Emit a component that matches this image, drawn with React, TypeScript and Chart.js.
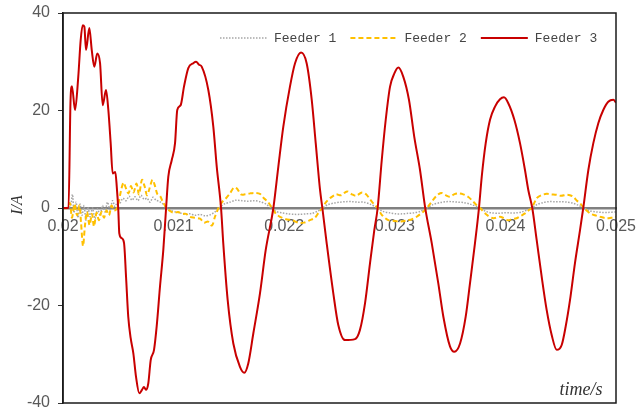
import React, { useEffect, useRef } from 'react';
import { Chart, registerables } from 'chart.js';

Chart.register(...registerables);

const seriesLabels = ['Feeder 1', 'Feeder 2', 'Feeder 3'];
const xTickValues = [0.02, 0.021, 0.022, 0.023, 0.024, 0.025];
const yTickValues = [-40, -20, 0, 20, 40];

const feeder1Time = [
  0.02, 0.020063, 0.020086, 0.020099, 0.020118, 0.020136, 0.020154, 0.020172, 0.02019, 0.020208,
  0.020226, 0.020244, 0.020267, 0.020289, 0.020312, 0.020335, 0.020357, 0.02038, 0.020402, 0.020425,
  0.020448, 0.02047, 0.020493, 0.020515, 0.020542, 0.02057, 0.020597, 0.020624, 0.020651, 0.020678,
  0.020705, 0.020732, 0.02076, 0.020787, 0.020814, 0.020841, 0.020868, 0.020895, 0.020931, 0.020967,
  0.021013, 0.021058, 0.021103, 0.021148, 0.021193, 0.021239, 0.021284, 0.021329, 0.021374, 0.02141,
  0.021456, 0.02151, 0.021564, 0.021618, 0.021673, 0.021727, 0.021781, 0.021835, 0.021881, 0.021926,
  0.02198, 0.022034, 0.022089, 0.022143, 0.022197, 0.022251, 0.022306, 0.022346, 0.022396, 0.02245,
  0.022505, 0.022559, 0.022613, 0.022667, 0.022722, 0.022776, 0.022844, 0.022893, 0.022957, 0.023011,
  0.023065, 0.023119, 0.023174, 0.023228, 0.023291, 0.023345, 0.023409, 0.023463, 0.023517, 0.023571,
  0.023626, 0.02368, 0.023771, 0.023825, 0.023879, 0.023933, 0.023987, 0.024042, 0.024096, 0.02415,
  0.024236, 0.024286, 0.02434, 0.024394, 0.024448, 0.024503, 0.024557, 0.024611, 0.024656, 0.024711,
  0.024765, 0.024819, 0.024873, 0.024928, 0.025,
];
const feeder1Current = [
  0, 0.3, 2.8, -1.0, 1.2, -2.0, 0.8, -1.5, 0.5, -2.5,
  0.2, -1.8, 0.0, -2.2, -0.2, -1.5, 0.5, -0.8, 1.2, -0.3,
  1.5, 0.3, 1.2, 1.0, 2.0, 1.5, 2.4, 1.6, 2.3, 1.5,
  2.6, 1.8, 2.0, 1.2, 2.2, 1.6, 1.4, 1.0, 0.2, -0.4,
  -0.8, -1.0, -1.3, -1.2, -1.5, -1.3, -1.6, -1.4, -0.8, 0,
  0.8, 1.2, 1.6, 1.5, 1.4, 1.5, 1.3, 0.8, 0, -0.7,
  -1.0, -1.2, -1.3, -1.3, -1.2, -1.1, -0.6, 0, 0.7, 1.0,
  1.2, 1.3, 1.3, 1.2, 1.2, 0.8, 0, -0.7, -1.0, -1.2,
  -1.2, -1.1, -1.0, -0.7, 0, 0.7, 1.1, 1.3, 1.3, 1.2,
  1.1, 0.8, 0, -0.7, -1.0, -1.1, -1.0, -1.0, -1.0, -0.8,
  0, 0.7, 1.1, 1.3, 1.3, 1.3, 1.2, 1.0, 0.6, 0,
  -0.6, -0.8, -0.9, -0.9, -0.8,
];

const feeder2Time = [
  0.02, 0.020045, 0.020063, 0.020081, 0.020104, 0.020127, 0.020149, 0.020163, 0.020181, 0.020199,
  0.020217, 0.02024, 0.020262, 0.02028, 0.020303, 0.020325, 0.020348, 0.020371, 0.020393, 0.020416,
  0.020439, 0.020461, 0.020484, 0.020502, 0.020524, 0.020547, 0.02057, 0.020592, 0.020615, 0.020637,
  0.020665, 0.020687, 0.020714, 0.020737, 0.02076, 0.020782, 0.020809, 0.020832, 0.020854, 0.020877,
  0.020904, 0.020936, 0.020967, 0.021004, 0.02104, 0.021076, 0.021112, 0.021148, 0.021193, 0.021239,
  0.021275, 0.021311, 0.021347, 0.021374, 0.021406, 0.021438, 0.021474, 0.02151, 0.021546, 0.021573,
  0.021609, 0.021646, 0.021691, 0.021736, 0.021781, 0.021817, 0.021854, 0.02189, 0.021926, 0.021962,
  0.022016, 0.022071, 0.022125, 0.022179, 0.022233, 0.022278, 0.022315, 0.022346, 0.022378, 0.022414,
  0.022468, 0.022514, 0.022568, 0.022613, 0.022649, 0.022703, 0.02274, 0.022776, 0.022812, 0.022845,
  0.022882, 0.022941, 0.022984, 0.023032, 0.023074, 0.023122, 0.023156, 0.023198, 0.023255, 0.023291,
  0.023334, 0.023373, 0.023418, 0.023463, 0.023499, 0.023535, 0.023571, 0.023619, 0.023662, 0.02371,
  0.023743, 0.023771, 0.023831, 0.023891, 0.023951, 0.023987, 0.024026, 0.02406, 0.024102, 0.024141,
  0.024177, 0.024213, 0.024238, 0.024283, 0.024322, 0.024373, 0.024412, 0.024464, 0.024503, 0.024554,
  0.024584, 0.024614, 0.024647, 0.024674, 0.024711, 0.024765, 0.02481, 0.024855, 0.024916, 0.024955,
  0.025,
];
const feeder2Current = [
  0, 0, 1.0, -2.0, 0.8, -1.5, 0.5, -3.0, -7.8, -3.5,
  -0.8, -3.5, -1.2, -3.8, -1.0, -2.5, -0.8, -2.0, -0.5, -1.5,
  0.5, -0.5, -0.2, 1.0, 3.5, 5.2, 4.0, 3.0, 4.5, 3.2,
  5.0, 2.8, 5.8, 4.5, 2.6, 4.0, 5.8, 4.5, 2.8, 2.5,
  1.2, 0, -0.6, -1.0, -0.8, -1.2, -1.2, -1.8, -2.0, -2.2,
  -3.0, -2.8, -3.6, -1.8, 0, 1.2, 2.0, 3.0, 4.2, 4.0,
  2.8, 2.8, 3.0, 3.1, 2.9, 2.0, 1.2, 0, -1.2, -1.8,
  -2.3, -2.5, -3.0, -3.0, -2.5, -2.0, -0.8, 0, 1.2, 2.0,
  2.8, 2.6, 3.4, 2.8, 2.5, 3.2, 2.8, 1.8, 0.8, 0,
  -1.4, -2.5, -2.6, -2.8, -2.7, -2.5, -2.3, -1.8, -0.8, 0,
  1.3, 2.4, 3.1, 2.6, 2.3, 2.8, 3.0, 2.8, 2.3, 1.3,
  0.5, 0, -1.4, -2.1, -1.8, -2.1, -2.5, -2.3, -2.1, -1.6,
  -1.1, -0.4, 0, 2.0, 2.6, 2.9, 2.8, 2.7, 2.5, 2.7,
  2.6, 2.3, 1.5, 1.0, 0, -1.1, -1.5, -1.8, -2.1, -2.0,
  -1.8,
];

const feeder3Time = [
  0.02, 0.02005, 0.020068, 0.020081, 0.020109, 0.020138, 0.02016, 0.020178, 0.020193, 0.020208,
  0.020238, 0.02026, 0.020283, 0.02031, 0.020335, 0.020359, 0.020389, 0.02041, 0.020431, 0.020449,
  0.020473, 0.020486, 0.0205, 0.020509, 0.020531, 0.020552, 0.02057, 0.02059, 0.020612, 0.020636,
  0.02066, 0.02069, 0.020714, 0.020732, 0.02075, 0.020771, 0.020793, 0.020823, 0.020847, 0.020877,
  0.020907, 0.020931, 0.020952, 0.020983, 0.021013, 0.021033, 0.021064, 0.021094, 0.021133, 0.021178,
  0.021203, 0.02123, 0.021254, 0.021314, 0.021359, 0.02139, 0.021429, 0.021449, 0.021489, 0.02154,
  0.0216, 0.021639, 0.021675, 0.021721, 0.021781, 0.021833, 0.021902, 0.021947, 0.021992, 0.022052,
  0.022098, 0.022152, 0.022203, 0.022249, 0.022285, 0.022324, 0.022345, 0.022384, 0.022444, 0.022489,
  0.02255, 0.02264, 0.022685, 0.022731, 0.022776, 0.022815, 0.022845, 0.022882, 0.022918, 0.022957,
  0.022996, 0.023032, 0.023077, 0.023128, 0.023176, 0.023228, 0.023273, 0.023334, 0.023393, 0.023439,
  0.023499, 0.023538, 0.02359, 0.023641, 0.02368, 0.023725, 0.023761, 0.023786, 0.023822, 0.023861,
  0.023906, 0.023951, 0.023987, 0.024026, 0.024081, 0.024132, 0.024177, 0.024207, 0.024243, 0.024283,
  0.024328, 0.024373, 0.024419, 0.024464, 0.024509, 0.024545, 0.024584, 0.024629, 0.024675, 0.024704,
  0.02475, 0.024795, 0.02484, 0.024885, 0.02493, 0.024976, 0.025,
];
const feeder3Current = [
  0, 0, 22, 25, 20.1, 26.9, 34.5, 37.5, 37.2, 32.4,
  36.9, 32.4, 29.0, 31.7, 29.7, 21.1, 24.2, 20.1, 13.3, 7.1,
  7.4, 4.4, -0.4, -5.2, -6.2, -7.2, -14.1, -22.3, -26.7, -29.8,
  -34.6, -38.0, -37.3, -36.7, -37.3, -36.0, -31.2, -29.1, -24.3, -16.1,
  -8.6, -0.4, 6.4, 9.8, 13.3, 20.1, 21.1, 24.9, 28.7, 29.7,
  30.0, 29.4, 29.0, 24.2, 16.7, 8.5, 0, -7.2, -18.9, -27.8,
  -32.6, -33.8, -31.9, -25.7, -17.5, -8.6, 0, 8.5, 16.7, 24.9,
  29.7, 31.9, 29.7, 22.2, 13.3, 3.7, 0, -7.2, -17.5, -24.0,
  -27.1, -26.9, -25.0, -19.5, -11.3, -4.5, 0, 9.8, 18.1, 24.9,
  27.6, 28.8, 26.9, 22.2, 14.6, 7.8, 0.3, -7.2, -15.4, -22.3,
  -28.4, -29.5, -27.8, -22.3, -15.4, -7.2, 0, 6.4, 13.3, 18.1,
  20.8, 22.3, 22.7, 21.5, 18.1, 13.3, 7.8, 3.7, 0, -6.6,
  -14.1, -20.9, -26.1, -29.1, -28.1, -24.3, -18.9, -11.3, -4.5, 0,
  7.8, 13.3, 17.4, 20.1, 21.8, 22.2, 21.6,
];

const toPoints = (t: number[], v: number[]) => t.map((x, i) => ({ x, y: v[i] }));

const zeroPadding = (s: any) => {
  s.paddingLeft = 0;
  s.paddingRight = 0;
  s.paddingTop = 0;
  s.paddingBottom = 0;
};

const decorPlugin = {
  id: 'decor',
  afterDraw(chart: any) {
    const { ctx, chartArea: a } = chart;
    ctx.save();
    // frame
    ctx.strokeStyle = '#1a1a1a';
    ctx.lineWidth = 1.5;
    ctx.setLineDash([]);
    ctx.strokeRect(a.left, a.top, a.right - a.left, a.bottom - a.top);

    // legend
    ctx.font = '13px "Liberation Mono", "DejaVu Sans Mono", monospace';
    ctx.textBaseline = 'middle';
    ctx.textAlign = 'left';
    let x = a.left + 157;
    const y = a.top + 25;
    [0, 1, 2].forEach((i) => {
      const ds = chart.data.datasets[i];
      ctx.strokeStyle = ds.borderColor;
      ctx.lineWidth = ds.borderWidth;
      ctx.setLineDash(ds.borderDash || []);
      ctx.beginPath();
      ctx.moveTo(x, y);
      ctx.lineTo(x + 47, y);
      ctx.stroke();
      ctx.setLineDash([]);
      ctx.fillStyle = '#454545';
      ctx.fillText(ds.label, x + 54, y + 1);
      x += 54 + ctx.measureText(ds.label).width + 14;
    });

    // axis titles
    ctx.fillStyle = '#333333';
    ctx.font = 'italic 16px "Liberation Serif", "DejaVu Serif", serif';
    ctx.save();
    ctx.translate(18, chart.scales.y.getPixelForValue(0) - 3);
    ctx.rotate(-Math.PI / 2);
    ctx.textAlign = 'center';
    ctx.textBaseline = 'middle';
    ctx.fillText('I/A', 0, 0);
    ctx.restore();

    ctx.font = 'italic 18px "Liberation Serif", "DejaVu Serif", serif';
    ctx.textAlign = 'center';
    ctx.textBaseline = 'middle';
    ctx.fillText('time/s', a.right - 35, a.bottom - 13);
    ctx.restore();
  },
};

export default function App() {
  const ref = useRef<HTMLCanvasElement | null>(null);

  useEffect(() => {
    if (!ref.current) return;
    const tickFont = { family: '"Liberation Sans", Arial, sans-serif', size: 16 };
    const chart = new Chart(ref.current, {
      type: 'line',
      data: {
        datasets: [
          {
            label: seriesLabels[0],
            data: toPoints(feeder1Time, feeder1Current),
            borderColor: '#a6a6a6',
            borderWidth: 1.5,
            borderDash: [1.5, 1.5],
            pointRadius: 0,
            tension: 0.3,
            order: 2,
          },
          {
            label: seriesLabels[1],
            data: toPoints(feeder2Time, feeder2Current),
            borderColor: '#ffc000',
            borderWidth: 2,
            borderDash: [5, 3],
            pointRadius: 0,
            tension: 0.3,
            order: 1,
          },
          {
            label: seriesLabels[2],
            data: toPoints(feeder3Time, feeder3Current),
            borderColor: '#c80000',
            borderWidth: 2,
            pointRadius: 0,
            cubicInterpolationMode: 'monotone',
            order: 0,
          },
        ] as any,
      },
      options: {
        responsive: false,
        animation: false,
        parsing: false as any,
        layout: { padding: { top: 13, right: 20, bottom: 9, left: 0 } },
        plugins: { legend: { display: false }, tooltip: { enabled: false } },
        scales: {
          x: {
            type: 'linear',
            position: { y: 0 } as any,
            min: 0.02,
            max: 0.025,
            afterBuildTicks: (s: any) => {
              s.ticks = xTickValues.map((v) => ({ value: v }));
            },
            afterFit: zeroPadding,
            ticks: {
              padding: 9,
              maxRotation: 0,
              autoSkip: false,
              color: '#595959',
              font: tickFont,
              callback: (v: any) => String(Number(Number(v).toFixed(3))),
            },
            grid: { display: false, drawTicks: false },
            border: { display: true, color: '#808080', width: 2.5 },
          },
          y: {
            type: 'linear',
            min: -40,
            max: 40,
            afterBuildTicks: (s: any) => {
              s.ticks = yTickValues.map((v) => ({ value: v }));
            },
            afterFit: (s: any) => {
              s.width = 63;
              zeroPadding(s);
            },
            ticks: { padding: 8, color: '#595959', font: tickFont },
            grid: { drawOnChartArea: false, drawTicks: true, tickLength: 5, color: '#333333' },
            border: { display: true, color: '#1a1a1a', width: 1.5 },
          },
        },
      },
      plugins: [decorPlugin],
    });
    return () => chart.destroy();
  }, []);

  return (
    <div style={{ position: 'absolute', left: 0, top: 0, width: 636, height: 412, background: '#fff' }}>
      <canvas ref={ref} width={636} height={412} style={{ display: 'block', width: 636, height: 412 }} />
    </div>
  );
}
